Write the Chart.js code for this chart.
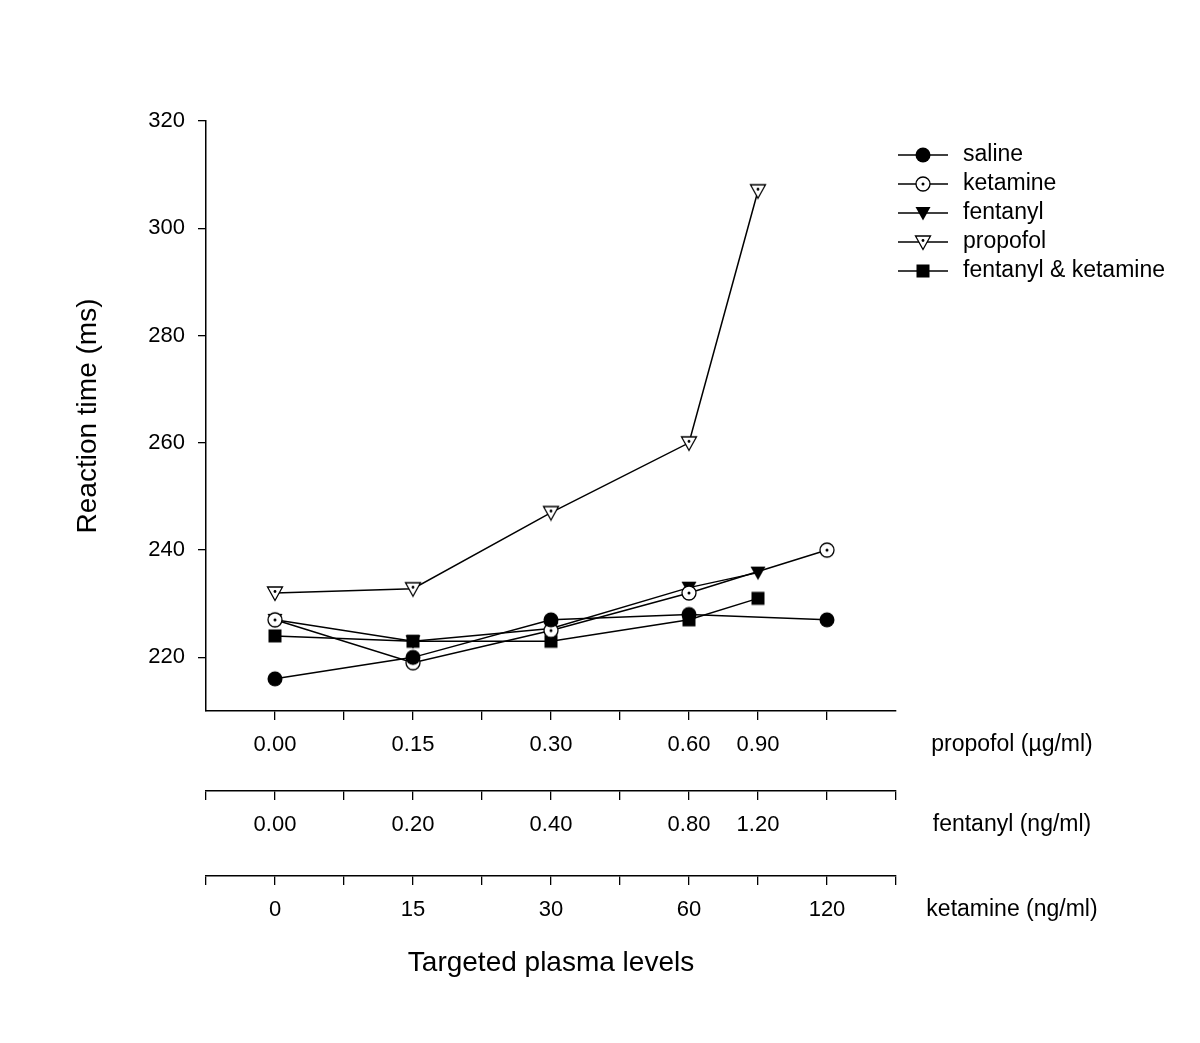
<!DOCTYPE html>
<html>
<head>
<meta charset="utf-8">
<script src="https://cdn.jsdelivr.net/npm/chart.js@4.4.0/dist/chart.umd.min.js"></script>
<style>
  html, body { margin: 0; padding: 0; background: #fff; }
</style>
</head>
<body>
<canvas id="chart" width="1200" height="1043"></canvas>
<script>
// Slots on the shared dose axis (ticks every half slot)
const dataSlots = [1, 3, 5, 7, 8, 9];
const doseSlots = [1, 3, 5, 7, 8];
const ketamineSlots = [1, 3, 5, 7, 9];
const xTickSlots = [0, 1, 2, 3, 4, 5, 6, 7, 8, 9, 10];

// Tick labels
const propofolLevels = ['0.00', '0.15', '0.30', '0.60', '0.90'];
const fentanylLevels = ['0.00', '0.20', '0.40', '0.80', '1.20'];
const ketamineLevels = ['0', '15', '30', '60', '120'];
const yTicks = [220, 240, 260, 280, 300, 320];

// Reaction time (ms), null = no measurement at that slot
const saline   = [216, 220, 227, 228, null, 227];
const ketamine = [227, 219, 225, 232, null, 240];
const fentanyl = [227, 223, 225.4, 233, 235.8, null];
const propofol = [232, 232.8, 247, 260, 307, null];
const fentKet  = [224, 223, 223, 227, 231, null];

const FONT = '"Liberation Sans", Arial, sans-serif';

function marker(kind) {
    const c = document.createElement('canvas');
    c.width = 18; c.height = 18;
    const g = c.getContext('2d');
    const m = 9;
    g.fillStyle = '#000';
    g.strokeStyle = '#000';
    g.lineWidth = 1.3;
    if (kind === 'dot') {
        g.beginPath(); g.arc(m, m, 7.5, 0, Math.PI * 2); g.fill();
    } else if (kind === 'ring') {
        g.beginPath(); g.arc(m, m, 7, 0, Math.PI * 2);
        g.fillStyle = '#fff'; g.fill(); g.stroke();
        g.fillStyle = '#000';
        g.beginPath(); g.arc(m, m, 1.5, 0, Math.PI * 2); g.fill();
    } else if (kind === 'tri' || kind === 'openTri') {
        g.beginPath();
        g.moveTo(m - 7.5, m - 6); g.lineTo(m + 7.5, m - 6); g.lineTo(m, m + 7.5);
        g.closePath();
        if (kind === 'tri') { g.fill(); }
        else {
            g.fillStyle = '#fff'; g.fill(); g.stroke();
            g.fillStyle = '#000';
            g.beginPath(); g.arc(m, m - 1.5, 1.4, 0, Math.PI * 2); g.fill();
        }
    } else if (kind === 'square') {
        g.fillRect(m - 6.5, m - 6.5, 13, 13);
    }
    return c;
}

function series(label, values, kind) {
    const pts = [];
    values.forEach((v, i) => { if (v !== null) pts.push({ x: dataSlots[i], y: v }); });
    return {
        label: label,
        data: pts,
        borderColor: '#000',
        borderWidth: 1.5,
        pointStyle: marker(kind),
        pointRadius: 8,
        xAxisID: 'x',
        tension: 0
    };
}

function labelFrom(slots, labels) {
    return function(v) {
        const i = slots.indexOf(v);
        return i >= 0 ? labels[i] : '';
    };
}

function doseAxis(weight, height, slots, labels, tickSlots) {
    return {
        type: 'linear',
        position: 'bottom',
        weight: weight,
        min: 0,
        max: 10,
        afterBuildTicks: s => { s.ticks = tickSlots.map(v => ({ value: v })); },
        afterFit: s => { s.height = height; },
        grid: { drawOnChartArea: false, drawTicks: true, tickLength: 9, color: '#000', lineWidth: 1.3 },
        border: { display: true, color: '#000', width: 1.5 },
        ticks: {
            autoSkip: false, maxRotation: 0, padding: 12,
            color: '#000', font: { family: FONT, size: 22 },
            callback: labelFrom(slots, labels)
        }
    };
}

// legend and dose axis names on the right side
const sidePlugin = {
    id: 'sideText',
    afterDraw(chart) {
        const ctx = chart.ctx;
        const x0 = chart.chartArea.right + 2;
        ctx.save();
        ctx.textBaseline = 'middle';
        ctx.font = '23px ' + FONT;
        chart.data.datasets.forEach((ds, i) => {
            const y = 155 + i * 29;
            ctx.strokeStyle = '#000';
            ctx.lineWidth = 1.5;
            ctx.beginPath(); ctx.moveTo(x0, y); ctx.lineTo(x0 + 50, y); ctx.stroke();
            const img = ds.pointStyle;
            ctx.drawImage(img, x0 + 25 - img.width / 2, y - img.height / 2);
            ctx.fillStyle = '#000';
            ctx.textAlign = 'left';
            ctx.fillText(ds.label, x0 + 65, y);
        });
        ctx.textAlign = 'center';
        const names = [['x', 'propofol (\u00b5g/ml)'], ['x2', 'fentanyl (ng/ml)'], ['x3', 'ketamine (ng/ml)']];
        names.forEach(([id, txt]) => {
            const s = chart.scales[id];
            ctx.fillText(txt, 1012, s.top + 34);
        });
        ctx.restore();
    }
};

new Chart(document.getElementById('chart').getContext('2d'), {
    type: 'line',
    data: {
        datasets: [
            series('saline', saline, 'dot'),
            series('ketamine', ketamine, 'ring'),
            series('fentanyl', fentanyl, 'tri'),
            series('propofol', propofol, 'openTri'),
            series('fentanyl & ketamine', fentKet, 'square')
        ]
    },
    options: {
        responsive: false,
        devicePixelRatio: 1,
        animation: false,
        layout: { padding: { left: 0, top: 121, right: 304, bottom: 0 } },
        plugins: { legend: { display: false }, tooltip: { enabled: false } },
        scales: {
            x: doseAxis(0, 80, doseSlots, propofolLevels, xTickSlots.slice(1, 10)),
            x2: doseAxis(1, 85, doseSlots, fentanylLevels, xTickSlots),
            x3: Object.assign(doseAxis(2, 167, ketamineSlots, ketamineLevels, xTickSlots), {
                title: {
                    display: true, text: 'Targeted plasma levels', color: '#000',
                    font: { family: FONT, size: 28 }, padding: { top: 0, bottom: 63 }
                }
            }),
            y: {
                min: 210,
                max: 320,
                afterBuildTicks: s => { s.ticks = yTicks.map(v => ({ value: v })); },
                afterFit: s => { s.width = 206; },
                grid: { drawOnChartArea: false, drawTicks: true, tickLength: 8, color: '#000', lineWidth: 1.3 },
                border: { display: true, color: '#000', width: 1.5 },
                ticks: { padding: 13, color: '#000', font: { family: FONT, size: 22 } },
                title: {
                    display: true, text: 'Reaction time (ms)', color: '#000',
                    font: { family: FONT, size: 28 }, padding: { top: 71, bottom: 0 }
                }
            }
        }
    },
    plugins: [sidePlugin]
});
</script>
</body>
</html>
